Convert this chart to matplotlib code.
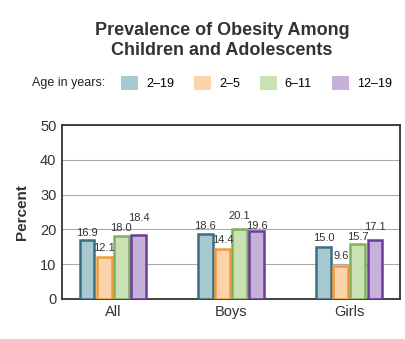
import matplotlib.pyplot as plt
import matplotlib.patches as mpatches
import numpy as np

plt.rcParams['font.family'] = ['Liberation Sans', 'DejaVu Sans']

groups = ['All', 'Boys', 'Girls']
series = ['2–19', '2–5', '6–11', '12–19']
v_2_19 = [16.9, 18.6, 15.0]
v_2_5 = [12.1, 14.4, 9.6]
v_6_11 = [18.0, 20.1, 15.7]
v_12_19 = [18.4, 19.6, 17.1]
values = [v_2_19, v_2_5, v_6_11, v_12_19]

# vertical nudges for the value labels (staggered as in the original)
label_dy = [[0.7, 0.9, 1.2], [1.0, 1.0, 1.4], [0.9, 2.4, 0.7], [3.5, 0.0, 2.1]]

fills = ['#a9c9d1', '#fcd3ab', '#c9e1b3', '#c6b2d9']
edges = ['#3b6f80', '#ef9b3c', '#7fb060', '#6a3d9a']

fig = plt.figure(figsize=(4.05, 3.39), dpi=100)
ax = fig.add_axes([0.153, 0.118, 0.835, 0.513])

x = np.arange(len(groups))
w = 0.125
step = 0.145
for i, vals in enumerate(values):
    xs = x + (i - 1.5) * step
    ax.bar(xs, vals, width=w, color=fills[i], edgecolor=edges[i], linewidth=1.8, zorder=3)
    for xi, v, dy in zip(xs, vals, label_dy[i]):
        ax.text(xi, v + dy, f'{v:.1f}', ha='center', va='bottom', fontsize=8, color='#333333', zorder=4)

ax.set_xlim(-0.43, 2.43)
ax.set_ylim(0, 50)
ax.set_yticks([0, 10, 20, 30, 40, 50])
ax.set_xticks(x)
ax.set_xticklabels(groups)
ax.tick_params(length=0, labelsize=10.5, colors='#333333', pad=4)
ax.yaxis.grid(True, color='#aaaaaa', linewidth=0.8, zorder=0)
for s in ax.spines.values():
    s.set_color('#333333')
    s.set_linewidth(1.3)
ax.set_ylabel('Percent', fontsize=11, fontweight='bold', color='#333333', labelpad=8)

fig.text(0.548, 0.88, 'Prevalence of Obesity Among\nChildren and Adolescents', ha='center', va='center',
         fontsize=13, fontweight='bold', color='#333333', linespacing=1.25)

fig.text(0.079, 0.755, 'Age in years:', ha='left', va='center', fontsize=9, color='#222222')
handles = [mpatches.Patch(facecolor=fills[i], edgecolor='none') for i in range(4)]
fig.legend(handles, series, loc='center', bbox_to_anchor=(0.633, 0.755), ncol=4, frameon=False,
           fontsize=9, handlelength=1.4, handleheight=1.4, columnspacing=1.6, handletextpad=0.6)

plt.savefig('out.png', dpi=100)
